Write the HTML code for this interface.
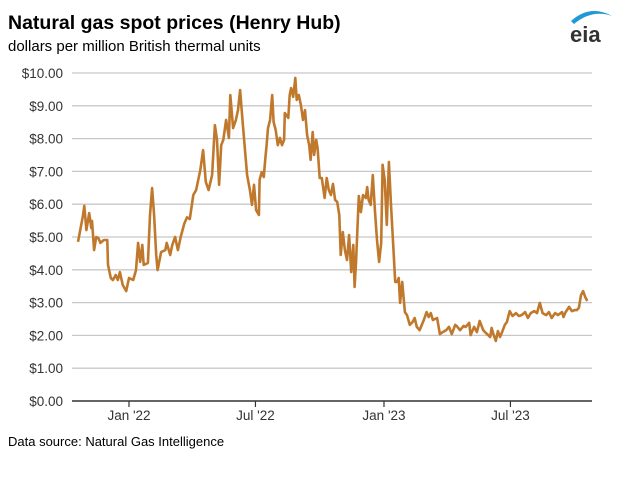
<!DOCTYPE html>
<html><head><meta charset="utf-8"><style>
body{margin:0;background:#fff;font-family:"Liberation Sans",Arial,sans-serif}
</style></head><body>
<svg width="626" height="473" viewBox="0 0 626 473">
<text x="8" y="29" font-size="19.5" font-weight="bold" fill="#000">Natural gas spot prices (Henry Hub)</text>
<text x="8" y="51" font-size="15" fill="#000">dollars per million British thermal units</text>
<g>
<path d="M571 21 Q590 4 612 16 Q592 9 574 24 Z" fill="#1f9ad6"/>
<text x="570" y="42" font-size="22" font-weight="bold" fill="#333">eia</text>
</g>
<g id="grid"></g><g id="ylabels"></g><g id="xaxis"></g>
<path id="line" fill="none" stroke="#c0792c" stroke-width="2.6" stroke-linejoin="round"/>
<text x="8" y="446" font-size="13" fill="#000">Data source: Natural Gas Intelligence</text>
</svg>
<script>
const yTicks=[0,1,2,3,4,5,6,7,8,9,10];
const xTickDays=[0,181,365,546];
const xTickLabels=["Jan '22","Jul '22","Jan '23","Jul '23"];
const days=[-73,-66,-64,-61,-57,-54,-53,-50,-47,-44,-41,-36,-31,-30,-26,-23,-19,-16,-13,-9,-4,0,6,10,13,16,19,21,27,30,33,36,39,41,46,52,54,59,62,66,70,74,79,83,87,92,96,102,106,110,114,119,123,126,129,132,135,139,143,145,149,153,156,159,163,166,169,173,176,179,182,186,187,190,193,195,197,199,202,205,207,210,213,216,219,222,223,228,230,232,235,238,240,243,246,249,252,255,258,260,263,265,268,270,273,276,280,283,286,289,292,295,298,301,303,306,309,312,315,318,321,323,325,329,332,335,339,341,343,346,349,352,355,358,361,363,366,369,372,375,378,381,384,386,388,391,395,398,402,406,409,412,416,422,426,429,432,435,441,445,449,454,458,462,467,469,474,479,482,487,489,494,498,502,507,511,517,519,522,525,528,531,534,538,541,545,549,554,558,562,567,571,575,580,584,588,592,597,601,605,610,614,620,622,625,630,634,638,641,644,647,650,653,656];
const prices=[4.85,5.64,5.95,5.21,5.73,5.27,5.49,4.60,5.00,4.97,4.82,4.91,4.91,4.15,3.75,3.69,3.84,3.69,3.93,3.54,3.35,3.75,3.69,3.99,4.82,4.24,4.76,4.15,4.21,5.67,6.49,5.67,4.45,3.99,4.54,4.60,4.82,4.45,4.76,5.00,4.60,5.00,5.40,5.60,5.55,6.28,6.43,7.04,7.65,6.68,6.43,6.89,8.41,7.96,6.59,7.80,7.96,8.57,8.02,9.33,8.32,8.57,8.87,9.48,8.41,7.65,6.89,6.43,5.98,6.59,5.82,5.67,6.74,6.98,6.83,7.35,7.80,8.32,8.57,9.33,8.51,8.26,7.80,8.02,7.80,7.96,8.78,8.63,9.33,9.54,9.27,9.85,9.18,9.33,9.02,8.57,8.87,8.11,7.80,7.35,8.20,7.50,7.96,7.71,6.80,6.80,6.19,6.80,6.43,6.28,6.62,6.13,6.07,5.67,4.45,5.15,4.60,4.30,5.06,3.93,4.76,3.48,4.21,6.25,5.76,6.28,6.19,6.52,6.13,5.98,6.89,5.82,4.91,4.24,4.82,7.20,6.74,5.37,7.29,5.98,4.82,3.63,3.63,3.75,2.99,3.63,2.71,2.62,2.32,2.41,2.53,2.26,2.16,2.47,2.71,2.56,2.68,2.47,2.53,2.04,2.10,2.16,2.26,2.04,2.32,2.29,2.16,2.29,2.26,2.38,2.01,2.26,2.10,2.44,2.16,2.07,1.95,2.23,2.01,1.83,2.13,1.95,2.10,2.32,2.41,2.74,2.59,2.68,2.59,2.62,2.71,2.53,2.68,2.74,2.68,2.99,2.68,2.62,2.71,2.53,2.68,2.62,2.71,2.56,2.71,2.87,2.74,2.77,2.77,2.84,3.23,3.35,3.17,3.05,2.96];
const X0=72,X1=592,Y0=401,Y10=73;
const xs=d=>129+d*0.6986;
const ys=v=>Y0+(Y10-Y0)*v/10;
const NS="http://www.w3.org/2000/svg";
function mk(t,a,p){const e=document.createElementNS(NS,t);for(const k in a)e.setAttribute(k,a[k]);p.appendChild(e);return e;}
const grid=document.getElementById('grid'),yl=document.getElementById('ylabels'),xa=document.getElementById('xaxis');
yTicks.forEach(v=>{
 if(v>0){const g=mk('line',{x1:X0,x2:X1,y1:ys(v),y2:ys(v),stroke:'#c8c8c8','stroke-width':1.3},grid);
 
 }
 const t=mk('text',{x:63,y:ys(v)+5,'font-size':13.5,'text-anchor':'end',fill:'#333'},yl);
 t.textContent='$'+v.toFixed(2);
 
 
});
const ax=mk('line',{x1:X0,x2:X1,y1:Y0,y2:Y0,stroke:'#333','stroke-width':1.5},xa);


xTickDays.forEach((d,i)=>{
 const tk=mk('line',{x1:xs(d),x2:xs(d),y1:Y0,y2:Y0+6,stroke:'#333','stroke-width':1.2},xa);
 
 
 const t=mk('text',{x:xs(d),y:Y0+19,'font-size':13.5,'text-anchor':'middle',fill:'#333'},xa);
 t.textContent=xTickLabels[i];
 
 
});
document.getElementById('line').setAttribute('d',days.map((d,i)=>(i?'L':'M')+xs(d).toFixed(1)+' '+ys(prices[i]).toFixed(1)).join(''));
</script>
</body></html>
